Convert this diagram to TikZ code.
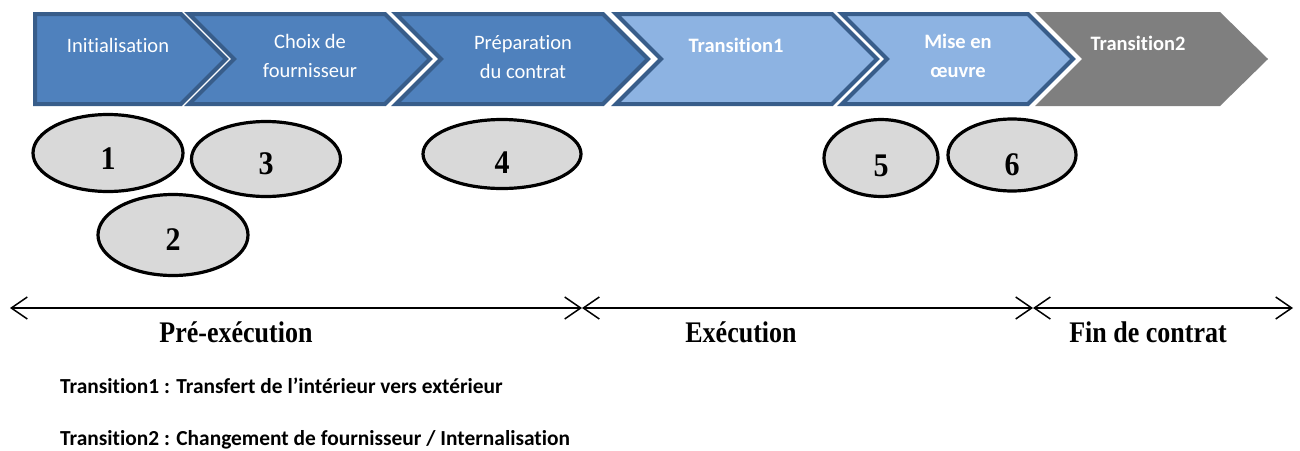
\documentclass[tikz,border=0pt]{standalone}
\usepackage{fontspec}
\setmainfont{Carlito}[Ligatures={NoCommon,NoContextual}]
\newfontfamily\tnr{Liberation Serif}
\usetikzlibrary{arrows.meta,shapes.geometric}
\definecolor{dkfill}{HTML}{4F81BD}
\definecolor{dkline}{HTML}{385D8A}
\definecolor{ltfill}{HTML}{8DB3E2}
\definecolor{gyfill}{HTML}{7F7F7F}
\definecolor{elfill}{HTML}{D9D9D9}
\tikzset{
  chevdark/.style={fill=dkfill,draw=dkline,line width=4pt,line join=miter},
  chevlight/.style={fill=ltfill,draw=dkline,line width=4pt,line join=miter},
  chevgray/.style={fill=gyfill,draw=none},
  chevtxt/.style={text=white,font=\fontsize{20.5}{24}\selectfont,anchor=base,inner sep=0pt},
  chevbold/.style={chevtxt,font=\fontsize{20.5}{24}\selectfont\bfseries},
  ell/.style={ellipse,draw=black,fill=elfill,line width=3.2pt,inner sep=0pt,
    font=\tnr\bfseries\fontsize{30}{32}\selectfont},
  dimarrow/.style={{Straight Barb[length=16pt,width=22pt,line width=1.5pt]}-{Straight Barb[length=16pt,width=22pt,line width=1.5pt]},line width=1.5pt},
  phase/.style={font=\tnr\bfseries\fontsize{26}{28}\selectfont,anchor=base,inner sep=0pt},
  note/.style={font=\bfseries\fontsize{21.4}{24}\selectfont,anchor=base west,inner sep=0pt}
}
\newcommand\tallnum[1]{\scalebox{1}[1.1]{#1}}
\begin{document}
\begin{tikzpicture}[x=1pt,y=-1pt]
\useasboundingbox (0,0) rectangle (1300,450);
% chevrons
\draw[chevdark] (35,14) -- (181,14) -- (226,59) -- (181,104) -- (35,104) -- cycle;
\draw[chevdark] (189,14) -- (385,14) -- (430,59) -- (385,104) -- (189,104) -- (234,59) -- cycle;
\draw[chevdark] (396,14) -- (603,14) -- (648,59) -- (603,104) -- (396,104) -- (441,59) -- cycle;
\draw[chevlight] (616,14) -- (832,14) -- (877,59) -- (832,104) -- (616,104) -- (661,59) -- cycle;
\draw[chevlight] (842,14) -- (1028,14) -- (1073,59) -- (1028,104) -- (842,104) -- (887,59) -- cycle;
\fill[chevgray] (1035,12) -- (1220,12) -- (1268,59) -- (1220,106) -- (1035,106) -- (1082,59) -- cycle;
% chevron texts
\node[chevtxt] (t1) at (118,52) {Initialisation};
\node[chevtxt] (t2a) at (310,48) {Choix de};
\node[chevtxt] (t2b) at (310,77) {fournisseur};
\node[chevtxt] (t3a) at (523,49) {Préparation};
\node[chevtxt] (t3b) at (523,78) {du contrat};
\node[chevbold] (t4) at (736,52) {Transition1};
\node[chevbold] (t5a) at (958,48) {Mise en};
\node[chevbold] (t5b) at (958,77) {œuvre};
\node[chevbold] (t6) at (1138,50) {Transition2};
% ellipses
\node[ell,minimum width=150pt,minimum height=77pt,text height=32pt,text depth=0pt] (e1) at (108,153) {\tallnum{1}};
\node[ell,minimum width=149pt,minimum height=75pt,text height=31pt,text depth=0pt] (e3) at (266,159) {\tallnum{3}};
\node[ell,minimum width=150pt,minimum height=81pt,text height=30pt,text depth=0pt] (e2) at (173,235) {\tallnum{2}};
\node[ell,minimum width=158pt,minimum height=69pt,text height=38pt,text depth=0pt] (e4) at (502,154) {\tallnum{4}};
\node[ell,minimum width=114pt,minimum height=77pt,text height=36pt,text depth=0pt] (e5) at (881,158) {\tallnum{5}};
\node[ell,minimum width=128pt,minimum height=72pt,text height=40pt,text depth=0pt] (e6) at (1012,155) {\tallnum{6}};
% phase arrows
\coordinate (p0) at (10,308);
\coordinate (p1) at (582,308);
\coordinate (p2) at (1033,308);
\coordinate (p3) at (1293,308);
\draw[dimarrow] (p0) -- (p1);
\draw[dimarrow] (p1) -- (p2);
\draw[dimarrow] (p2) -- (p3);
\node[phase] (ph1) at (236,342) {\scalebox{1}[1.15]{Pré-exécution}};
\node[phase] (ph2) at (741,342) {\scalebox{1}[1.15]{Exécution}};
\node[phase] (ph3) at (1148,342) {\scalebox{1}[1.15]{Fin de contrat}};
% notes
\node[note] (n1) at (60,393) {Transition1 : Transfert de l’intérieur vers extérieur};
\node[note] (n2) at (60,445) {Transition2 : Changement de fournisseur / Internalisation};
\end{tikzpicture}
\end{document}
